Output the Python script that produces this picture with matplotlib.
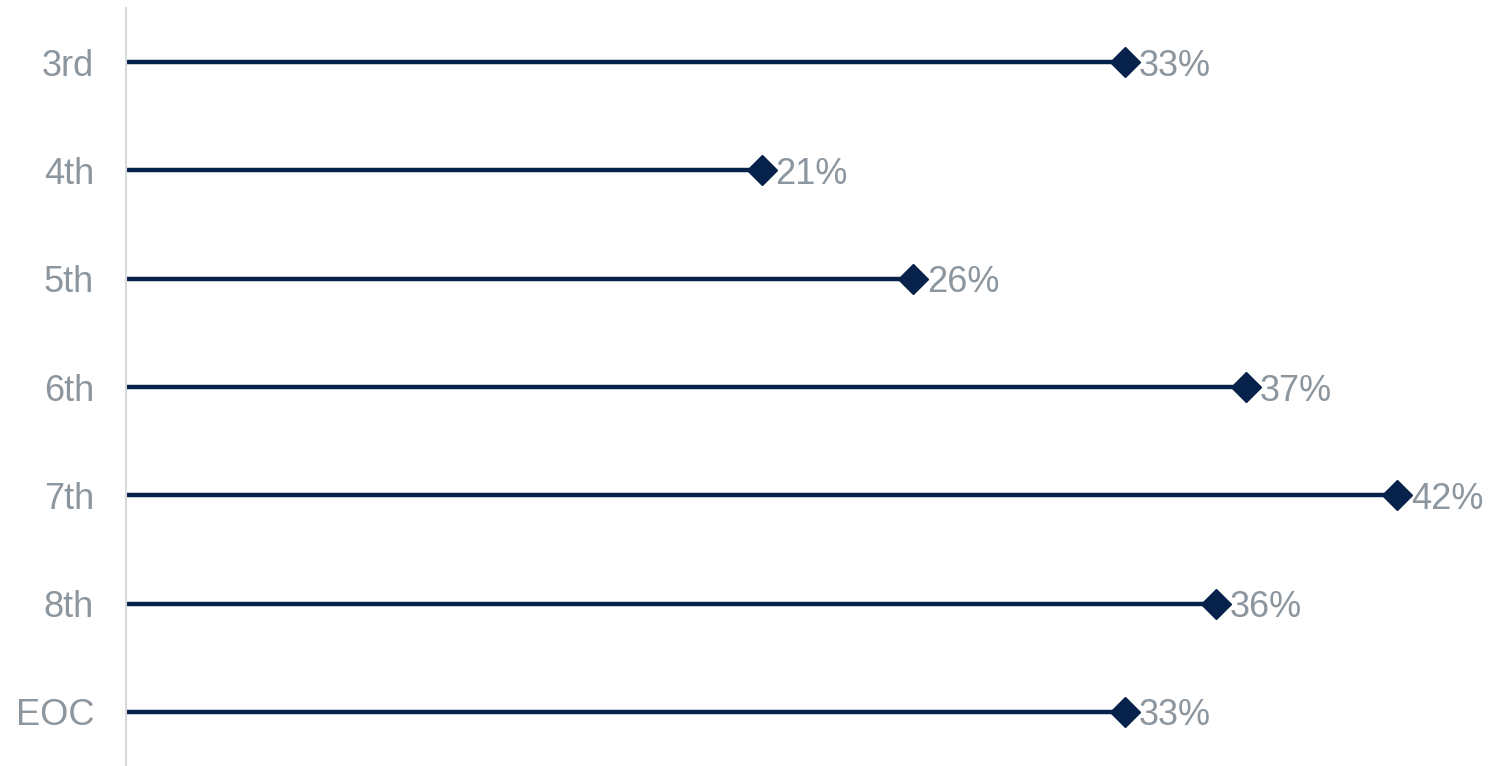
import matplotlib
matplotlib.use("Agg")
import matplotlib.pyplot as plt

# Share of students by grade level
grades = ["3rd", "4th", "5th", "6th", "7th", "8th", "EOC"]
values = [33, 21, 26, 37, 42, 36, 33]

navy = "#06224A"
gray = "#8C969F"

plt.rcParams["font.family"] = ["Liberation Sans", "DejaVu Sans"]

fig = plt.figure(figsize=(14.88, 7.66), dpi=100)
ax = fig.add_axes([126 / 1488, 0, 1 - 126 / 1488, 1 - 8 / 766])

ypos = list(range(len(grades)))
ax.hlines(ypos, 0, values, color=navy, linewidth=3.2, zorder=2)
ax.plot(values, ypos, linestyle="none", marker="D", markersize=15,
        color=navy, zorder=3)

for y, v in zip(ypos, values):
    ax.annotate(f"{v}%", xy=(v, y), xytext=(10, 0), textcoords="offset points",
                va="center_baseline", ha="left", fontsize=26, color=gray)

ax.set_xlim(0, 45)
ax.set_ylim(len(grades) - 0.5, -0.5)
ax.set_yticks(ypos)
ax.set_yticklabels(grades, va="center_baseline")
ax.tick_params(axis="y", length=0, pad=23, labelsize=26, labelcolor=gray)
ax.set_xticks([])

for side in ["top", "right", "bottom"]:
    ax.spines[side].set_visible(False)
ax.spines["left"].set_color("#D9D9D9")
ax.spines["left"].set_linewidth(1.5)

fig.savefig("out.png", dpi=100)
